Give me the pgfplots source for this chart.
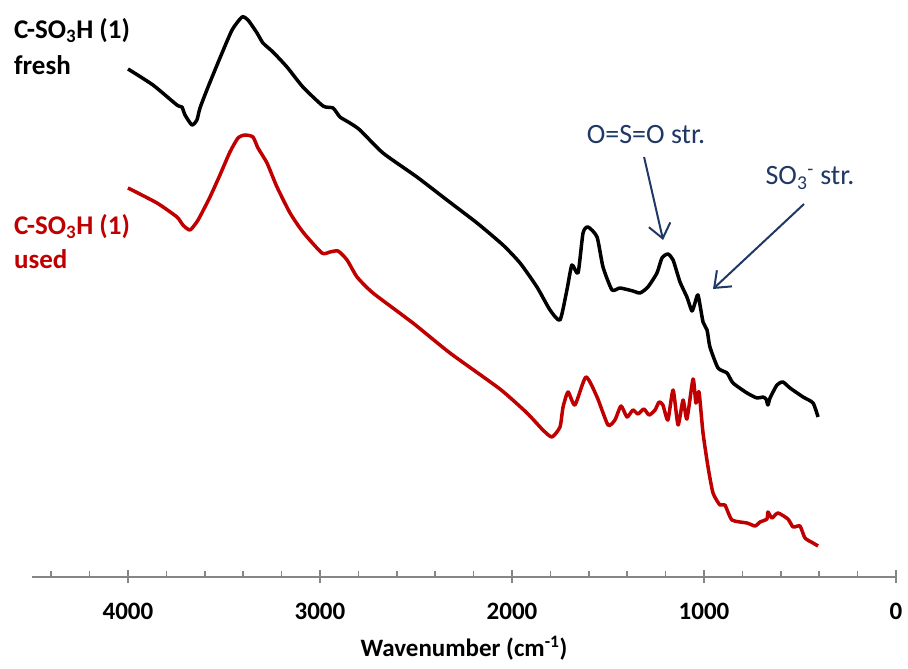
\documentclass[border=0pt]{standalone}
\usepackage{fontspec}
\setmainfont{Carlito}
\usepackage{pgfplots}
\pgfplotsset{compat=1.18}
\usetikzlibrary{arrows.meta}
\definecolor{axgray}{HTML}{868686}
\definecolor{usedred}{HTML}{C00000}
\definecolor{annblue}{HTML}{203864}
\begin{document}
\begin{tikzpicture}
\begin{axis}[
  at={(0pt,0pt)}, anchor=south west,
  scale only axis, width=864pt, height=577pt,
  xmin=0, xmax=4500, ymin=0, ymax=577,
  x dir=reverse,
  axis x line*=bottom, axis y line=none,
  ytick=\empty,
  xtick={0,1000,2000,3000,4000},
  minor xtick={200,400,600,800,1200,1400,1600,1800,2200,2400,2600,2800,3200,3400,3600,3800,4200,4400},
  tick align=center,
  major tick length=13pt, minor tick length=6pt,
  minor x tick style={yshift=3pt},
  every tick/.style={axgray, line width=1.5pt},
  x axis line style={axgray, line width=1.5pt, -},
  /pgf/number format/1000 sep={},
  /pgf/number format/assume math mode=true,
  xticklabel style={font=\fontsize{25}{25}\selectfont\bfseries, anchor=base, yshift=-36pt},
  xlabel={Wavenumber (cm\textsuperscript{-1})},
  xlabel style={font=\fontsize{25}{25}\selectfont\bfseries, at={(axis description cs:0.5,0)}, anchor=base, yshift=-80pt},
  clip=false,
]
\addplot[black, line width=3.5pt, line join=round, smooth, tension=0.35] coordinates {
(4000,508)(3870,492)(3745,472)(3719,470)(3703,462)(3667,452)(3641,457)(3625,469)
(3583,490)(3521,519)(3458,547)(3406,560)(3375,557)(3328,544)(3297,534)(3245,525)
(3172,510)(3089,490)(2984,471)(2932,469)(2896,460)(2844,454)(2792,447)(2672,424)
(2495,400)(2339,377)(2182,354)(2047,332)(1958,314)(1870,290)(1802,267)(1750,257)
(1714,287)(1688,312)(1656,304)(1630,344)(1604,350)(1557,340)(1526,310)(1479,287)
(1438,289)(1370,286)(1333,284)(1292,290)(1245,304)(1219,319)(1188,323)(1161,317)
(1125,295)(1089,280)(1063,266)(1047,274)(1031,282)(1005,255)(984,247)(969,230)
(927,209)(880,204)(849,194)(776,184)(724,179)(693,180)(677,178)(667,172)(656,179)
(620,192)(589,195)(552,189)(484,180)(432,174)(406,160)
};
\addplot[usedred, line width=3.5pt, line join=round, smooth, tension=0.35] coordinates {
(4000,389)(3849,374)(3745,360)(3714,352)(3677,347)(3635,357)(3573,380)(3521,402)
(3469,425)(3427,439)(3391,442)(3349,440)(3323,429)(3276,414)(3224,390)(3156,364)
(3089,345)(2990,324)(2948,325)(2906,326)(2859,317)(2807,300)(2724,284)(2516,254)
(2323,224)(2063,188)(1922,164)(1839,147)(1792,140)(1750,150)(1734,170)(1708,185)
(1672,172)(1615,200)(1557,180)(1500,152)(1464,157)(1432,171)(1401,160)(1370,167)
(1344,163)(1313,168)(1286,162)(1255,167)(1234,175)(1214,172)(1188,157)(1161,187)
(1135,152)(1109,177)(1089,158)(1057,198)(1042,174)(1026,185)(1005,144)(979,110)
(953,84)(917,72)(891,72)(854,57)(776,54)(734,51)(708,55)(672,58)(667,65)(646,59)
(615,64)(563,58)(536,50)(500,51)(474,39)(432,34)(406,31)
};
% labels
\node[anchor=base west, font=\fontsize{27}{27}\selectfont\bfseries, inner sep=0pt] at (axis cs:4594,538) {C-SO\textsubscript{3}H (1)};
\node[anchor=base west, font=\fontsize{27}{27}\selectfont\bfseries, inner sep=0pt] at (axis cs:4594,502) {fresh};
\node[anchor=base west, font=\fontsize{27}{27}\selectfont\bfseries, inner sep=0pt, text=usedred] at (axis cs:4594,342) {C-SO\textsubscript{3}H (1)};
\node[anchor=base west, font=\fontsize{27}{27}\selectfont\bfseries, inner sep=0pt, text=usedred] at (axis cs:4594,308) {used};
% annotations
\node[font=\fontsize{28}{28}\selectfont, text=annblue, inner sep=0pt] at (axis cs:1302,442) {O=S=O str.};
\node[font=\fontsize{28}{28}\selectfont, text=annblue, inner sep=0pt] at (axis cs:448,399) {SO\textsubscript{3}\textsuperscript{-} str.};
\draw[annblue, line width=2pt, -{Straight Barb[length=14pt,width=22pt]}] (axis cs:1312,420) -- (axis cs:1213,337);
\draw[annblue, line width=2pt, -{Straight Barb[length=14pt,width=22pt]}] (axis cs:479,373) -- (axis cs:953,288);
\end{axis}
\pgfresetboundingbox
\path[use as bounding box] (-32pt,-92pt) rectangle (876pt,577pt);
\end{tikzpicture}
\end{document}
